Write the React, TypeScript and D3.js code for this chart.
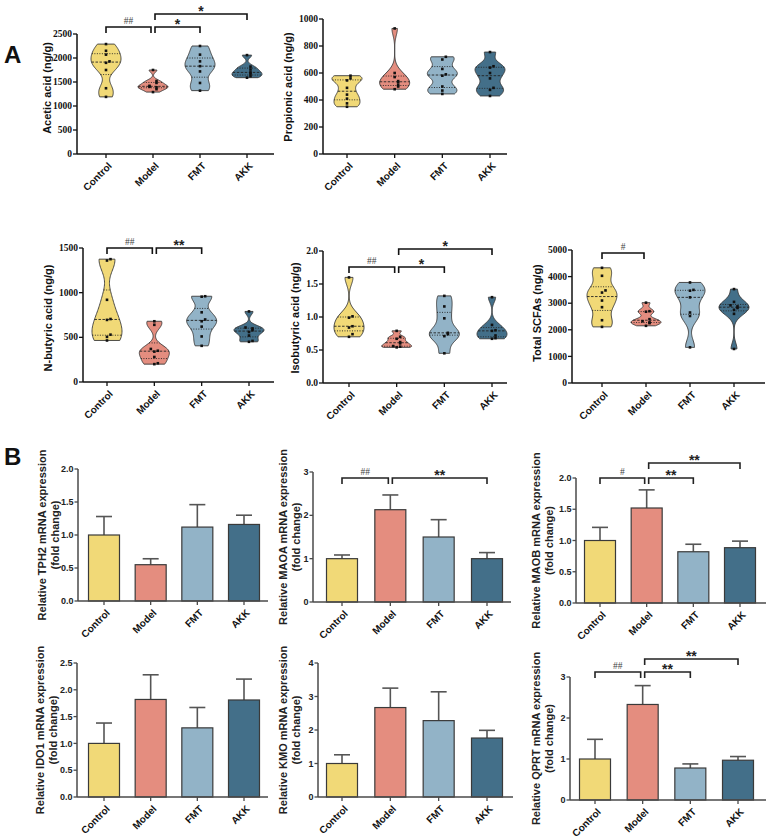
import React from 'react';
import * as d3 from 'd3';

const GROUPS = ['Control', 'Model', 'FMT', 'AKK'];
const FILLS = ['#F1D977', '#E48D7F', '#92B3C7', '#436F89'];

// short-chain fatty acids, one array per group (ng/g)
const acetic = [
  [2290, 2150, 2070, 1930, 1900, 1750, 1370, 1190],
  [1750, 1520, 1480, 1420, 1400, 1390, 1350, 1290],
  [2250, 2070, 1930, 1830, 1720, 1480, 1320],
  [2060, 1820, 1760, 1700, 1670, 1620, 1590],
];
const propionic = [
  [580, 560, 545, 490, 440, 410, 375, 350],
  [930, 600, 570, 540, 530, 510, 500, 480],
  [720, 700, 630, 590, 580, 500, 470, 445],
  [755, 650, 640, 600, 560, 490, 475, 430],
];
const butyric = [
  [1375, 1360, 920, 705, 695, 530, 505, 465],
  [680, 640, 370, 350, 340, 280, 210, 200],
  [960, 955, 780, 700, 680, 620, 510, 405],
  [790, 610, 600, 580, 560, 520, 460, 450],
];
const isobutyric = [
  [1.6, 1.01, 0.99, 0.86, 0.84, 0.74, 0.7],
  [0.79, 0.7, 0.67, 0.62, 0.6, 0.56, 0.55, 0.54],
  [1.32, 1.16, 0.98, 0.76, 0.74, 0.71, 0.45],
  [1.3, 0.88, 0.8, 0.79, 0.72, 0.68, 0.67],
];
const totalScfa = [
  [4330, 4030, 3480, 3400, 3100, 2850, 2360, 2110],
  [3020, 2700, 2680, 2400, 2320, 2280, 2250, 2150],
  [3780, 3500, 3470, 3220, 2650, 2520, 1340],
  [3530, 3050, 2920, 2880, 2820, 2750, 2600, 1280],
];

// qPCR, mean and SD per group (fold change)
const tph2Mean = [1.0, 0.55, 1.12, 1.16];
const tph2Sd = [0.28, 0.09, 0.34, 0.14];
const maoaMean = [1.0, 2.13, 1.5, 1.0];
const maoaSd = [0.085, 0.34, 0.4, 0.14];
const maobMean = [1.0, 1.52, 0.82, 0.885];
const maobSd = [0.21, 0.29, 0.12, 0.105];
const ido1Mean = [1.0, 1.82, 1.29, 1.81];
const ido1Sd = [0.38, 0.46, 0.38, 0.39];
const kmoMean = [1.0, 2.67, 2.28, 1.76];
const kmoSd = [0.26, 0.58, 0.86, 0.23];
const qprtMean = [1.0, 2.33, 0.78, 0.97];
const qprtSd = [0.48, 0.46, 0.1, 0.09];

const SANS = '"Liberation Sans", Arial, sans-serif';
const SERIF = '"Liberation Serif", "Times New Roman", serif';

type Bracket = { a: number; b: number; y: number; label: string };

type ViolinCfg = {
  title: string; data: number[][]; max: number; step: number; fmt: string;
  x0: number; x1: number; c0: number; c3: number; yTop: number; yBot: number;
  titleX: number; titleY: number; brackets: Bracket[];
};

type BarCfg = {
  title: string; mean: number[]; sd: number[]; max: number; step: number; fmt: string;
  x0: number; x1: number; c0: number; c3: number; yTop: number; yBot: number;
  titleX: number; brackets: Bracket[];
};

const violins: ViolinCfg[] = [
  { title: 'Acetic acid (ng/g)', data: acetic, max: 2500, step: 500, fmt: 'd', x0: 77, x1: 274, c0: 106, c3: 247, yTop: 34, yBot: 154, titleX: 47, titleY: 88,
    brackets: [{ a: 0, b: 1, y: 27, label: '##' }, { a: 1, b: 2, y: 27, label: '*' }, { a: 1, b: 3, y: 14, label: '*' }] },
  { title: 'Propionic acid (ng/g)', data: propionic, max: 1000, step: 200, fmt: 'd', x0: 323, x1: 507, c0: 347, c3: 490, yTop: 19, yBot: 154, titleX: 288, titleY: 87, brackets: [] },
  { title: 'N-butyric acid (ng/g)', data: butyric, max: 1500, step: 500, fmt: 'd', x0: 83, x1: 274, c0: 107, c3: 249, yTop: 248, yBot: 382, titleX: 48, titleY: 318,
    brackets: [{ a: 0, b: 1, y: 248, label: '##' }, { a: 1, b: 2, y: 248, label: '**' }] },
  { title: 'Isobutyric acid (ng/g)', data: isobutyric, max: 2, step: 0.5, fmt: '.1f', x0: 323, x1: 507, c0: 349, c3: 492, yTop: 251, yBot: 383, titleX: 295, titleY: 318,
    brackets: [{ a: 0, b: 1, y: 267, label: '##' }, { a: 1, b: 2, y: 267, label: '*' }, { a: 1, b: 3, y: 249, label: '*' }] },
  { title: 'Total SCFAs (ng/g)', data: totalScfa, max: 5000, step: 1000, fmt: 'd', x0: 572, x1: 765, c0: 602, c3: 734, yTop: 250, yBot: 383, titleX: 537, titleY: 313,
    brackets: [{ a: 0, b: 1, y: 253, label: '#' }] },
];

const bars: BarCfg[] = [
  { title: 'Relative TPH2 mRNA expression', mean: tph2Mean, sd: tph2Sd, max: 2, step: 0.5, fmt: '.1f', x0: 78, x1: 268, c0: 104, c3: 244, yTop: 469, yBot: 601, titleX: 42, brackets: [] },
  { title: 'Relative MAOA mRNA expression', mean: maoaMean, sd: maoaSd, max: 3, step: 1, fmt: 'd', x0: 313, x1: 511, c0: 342, c3: 487, yTop: 472, yBot: 602, titleX: 283,
    brackets: [{ a: 0, b: 1, y: 478, label: '##' }, { a: 1, b: 3, y: 478, label: '**' }] },
  { title: 'Relative MAOB mRNA expression', mean: maobMean, sd: maobSd, max: 2, step: 0.5, fmt: '.1f', x0: 576, x1: 766, c0: 600, c3: 740, yTop: 478, yBot: 603, titleX: 536,
    brackets: [{ a: 0, b: 1, y: 478, label: '#' }, { a: 1, b: 2, y: 478, label: '**' }, { a: 1, b: 3, y: 463, label: '**' }] },
  { title: 'Relative IDO1 mRNA expression', mean: ido1Mean, sd: ido1Sd, max: 2.5, step: 0.5, fmt: '.1f', x0: 77, x1: 268, c0: 104, c3: 244, yTop: 663, yBot: 797, titleX: 40, brackets: [] },
  { title: 'Relative KMO mRNA expression', mean: kmoMean, sd: kmoSd, max: 4, step: 1, fmt: 'd', x0: 318, x1: 513, c0: 342, c3: 487, yTop: 663, yBot: 797, titleX: 283, brackets: [] },
  { title: 'Relative QPRT mRNA expression', mean: qprtMean, sd: qprtSd, max: 3, step: 1, fmt: 'd', x0: 570, x1: 766, c0: 595, c3: 738, yTop: 677, yBot: 800, titleX: 536,
    brackets: [{ a: 0, b: 1, y: 672, label: '##' }, { a: 1, b: 2, y: 672, label: '**' }, { a: 1, b: 3, y: 659, label: '**' }] },
];

function Brackets({ list, x, color }: { list: Bracket[]; x: d3.ScalePoint<string>; color: string }) {
  return (
    <g>
      {list.map((br, i) => {
        // leave a small gap where two brackets meet at the same group
        const xa = (x(GROUPS[br.a]) as number) + (br.a === 1 ? 2 : 0);
        const xb = (x(GROUPS[br.b]) as number) - (br.b === 1 ? 2 : 0);
        const hash = br.label.startsWith('#');
        return (
          <g key={i}>
            <path d={`M${xa},${br.y + 6}V${br.y}H${xb}V${br.y + 6}`} fill="none" stroke={color} strokeWidth={1.6} />
            <text x={(xa + xb) / 2} y={hash ? br.y - 3 : br.y + 2} textAnchor="middle"
              fontFamily={hash ? SERIF : SANS} fontSize={hash ? 9.5 : 14} fontWeight={hash ? 400 : 700} fill={hash ? '#444' : '#222'}>
              {br.label}
            </text>
          </g>
        );
      })}
    </g>
  );
}

function Violin({ values, cx, y, fill }: { values: number[]; cx: number; y: d3.ScaleLinear<number, number>; fill: string }) {
  const sorted = [...values].sort(d3.ascending);
  const lo = sorted[0];
  const hi = sorted[sorted.length - 1];
  const sd = d3.deviation(sorted) as number;
  const h = 0.5 * 1.06 * sd * Math.pow(sorted.length, -0.2);
  const dens = (v: number) => d3.mean(sorted, s => Math.exp(-0.5 * ((v - s) / h) ** 2)) as number;
  const samples = d3.range(61).map(i => lo + ((hi - lo) * i) / 60);
  const peak = d3.max(samples, dens) as number;
  const w = d3.scaleLinear().domain([0, peak]).range([0, 15]);
  const area = d3.area<number>()
    .y(v => y(v))
    .x0(v => cx - w(dens(v)))
    .x1(v => cx + w(dens(v)))
    .curve(d3.curveCatmullRom);
  const quart = [0.25, 0.5, 0.75].map(p => d3.quantile(sorted, p) as number);

  // simple vertical dodge so close points do not sit on top of each other
  const placed: { px: number; py: number }[] = [];
  const offsets = [0, 3.5, -3.5, 7, -7];
  sorted.forEach(v => {
    const py = y(v);
    const near = placed.filter(p => Math.abs(p.py - py) < 3).length;
    placed.push({ px: cx + offsets[Math.min(near, offsets.length - 1)], py });
  });

  return (
    <g>
      <path d={area(samples) as string} fill={fill} stroke="#3a3a3a" strokeWidth={0.9} />
      {quart.map((q, i) => (
        <line key={i} x1={cx - w(dens(q))} x2={cx + w(dens(q))} y1={y(q)} y2={y(q)}
          stroke="#222" strokeWidth={0.9} strokeDasharray={i === 1 ? '2.5,1.5' : '1,1.5'} />
      ))}
      {placed.map((p, i) => (
        <rect key={i} x={p.px - 1.3} y={p.py - 1.3} width={2.6} height={2.6} fill="#111" />
      ))}
    </g>
  );
}

function CategoryLabels({ x, yBot }: { x: d3.ScalePoint<string>; yBot: number }) {
  return (
    <g>
      {GROUPS.map(g => (
        <text key={g} transform={`translate(${(x(g) as number) + 4},${yBot + 10}) rotate(-45)`} textAnchor="end"
          dy="0.35em" fontFamily={SANS} fontWeight={700} fontSize={10} fill="#111">
          {g}
        </text>
      ))}
    </g>
  );
}

function ViolinChart({ c }: { c: ViolinCfg }) {
  const y = d3.scaleLinear().domain([0, c.max]).range([c.yBot, c.yTop]);
  const x = d3.scalePoint<string>().domain(GROUPS).range([c.c0, c.c3]);
  const ticks = d3.range(0, c.max + c.step / 2, c.step);
  const f = d3.format(c.fmt);
  return (
    <g>
      <Brackets list={c.brackets} x={x} color="#111" />
      {GROUPS.map((g, i) => (
        <Violin key={g} values={c.data[i]} cx={x(g) as number} y={y} fill={FILLS[i]} />
      ))}
      <line x1={c.x0} x2={c.x0} y1={c.yTop} y2={c.yBot} stroke="#111" strokeWidth={1.5} />
      <line x1={c.x0} x2={c.x1} y1={c.yBot} y2={c.yBot} stroke="#111" strokeWidth={1.5} />
      {ticks.map(t => (
        <g key={t}>
          <line x1={c.x0 - 4} x2={c.x0} y1={y(t)} y2={y(t)} stroke="#111" strokeWidth={1.3} />
          <text x={c.x0 - 5} y={y(t)} dy="0.33em" textAnchor="end" fontFamily={SERIF} fontWeight={700} fontSize={9.5} fill="#111">
            {f(t)}
          </text>
        </g>
      ))}
      {GROUPS.map(g => (
        <line key={g} x1={x(g)} x2={x(g)} y1={c.yBot} y2={c.yBot + 4} stroke="#111" strokeWidth={1.3} />
      ))}
      <CategoryLabels x={x} yBot={c.yBot} />
      <text transform={`translate(${c.titleX},${c.titleY}) rotate(-90)`} textAnchor="middle" dy="0.35em"
        fontFamily={SANS} fontWeight={700} fontSize={11} fill="#111">
        {c.title}
      </text>
    </g>
  );
}

function BarChart({ c }: { c: BarCfg }) {
  const y = d3.scaleLinear().domain([0, c.max]).range([c.yBot, c.yTop]);
  const x = d3.scalePoint<string>().domain(GROUPS).range([c.c0, c.c3]);
  const ticks = d3.range(0, c.max + c.step / 2, c.step);
  const f = d3.format(c.fmt);
  const bw = 31;
  const axis = '#4a4a4a';
  const midY = (c.yTop + c.yBot) / 2;
  return (
    <g>
      <Brackets list={c.brackets} x={x} color="#222" />
      {GROUPS.map((g, i) => {
        const cx = x(g) as number;
        const top = y(c.mean[i]);
        const err = y(c.mean[i] + c.sd[i]);
        return (
          <g key={g}>
            <line x1={cx} x2={cx} y1={top} y2={err} stroke="#555" strokeWidth={1.6} />
            <line x1={cx - 8} x2={cx + 8} y1={err} y2={err} stroke="#555" strokeWidth={1.6} />
            <rect x={cx - bw / 2} y={top} width={bw} height={c.yBot - top} fill={FILLS[i]} stroke="#3a3a3a" strokeWidth={1.2} />
          </g>
        );
      })}
      <line x1={c.x0} x2={c.x0} y1={c.yTop} y2={c.yBot} stroke={axis} strokeWidth={1.5} />
      <line x1={c.x0} x2={c.x1} y1={c.yBot} y2={c.yBot} stroke={axis} strokeWidth={1.5} />
      {ticks.map(t => (
        <g key={t}>
          <line x1={c.x0 - 3.5} x2={c.x0} y1={y(t)} y2={y(t)} stroke={axis} strokeWidth={1.3} />
          <text x={c.x0 - 4.5} y={y(t)} dy="0.35em" textAnchor="end" fontFamily={SANS} fontWeight={700} fontSize={9} fill="#222">
            {f(t)}
          </text>
        </g>
      ))}
      {GROUPS.map(g => (
        <line key={g} x1={x(g)} x2={x(g)} y1={c.yBot} y2={c.yBot + 4} stroke={axis} strokeWidth={1.3} />
      ))}
      <CategoryLabels x={x} yBot={c.yBot} />
      <text transform={`translate(${c.titleX},${midY}) rotate(-90)`} textAnchor="middle" dy="0.35em"
        fontFamily={SANS} fontWeight={700} fontSize={11} fill="#222">
        {c.title}
      </text>
      <text transform={`translate(${c.titleX + 13},${midY}) rotate(-90)`} textAnchor="middle" dy="0.35em"
        fontFamily={SANS} fontWeight={700} fontSize={11} fill="#222">
        (fold change)
      </text>
    </g>
  );
}

export default function App() {
  return (
    <svg width={767} height={838} style={{ position: 'absolute', left: 0, top: 0, background: '#fff' }}>
      <rect width={767} height={838} fill="#fff" />
      <text x={4} y={63} fontFamily={SANS} fontWeight={700} fontSize={24} fill="#111">A</text>
      <text x={4} y={465} fontFamily={SANS} fontWeight={700} fontSize={24} fill="#111">B</text>
      {violins.map(c => <ViolinChart key={c.title} c={c} />)}
      {bars.map(c => <BarChart key={c.title} c={c} />)}
    </svg>
  );
}
